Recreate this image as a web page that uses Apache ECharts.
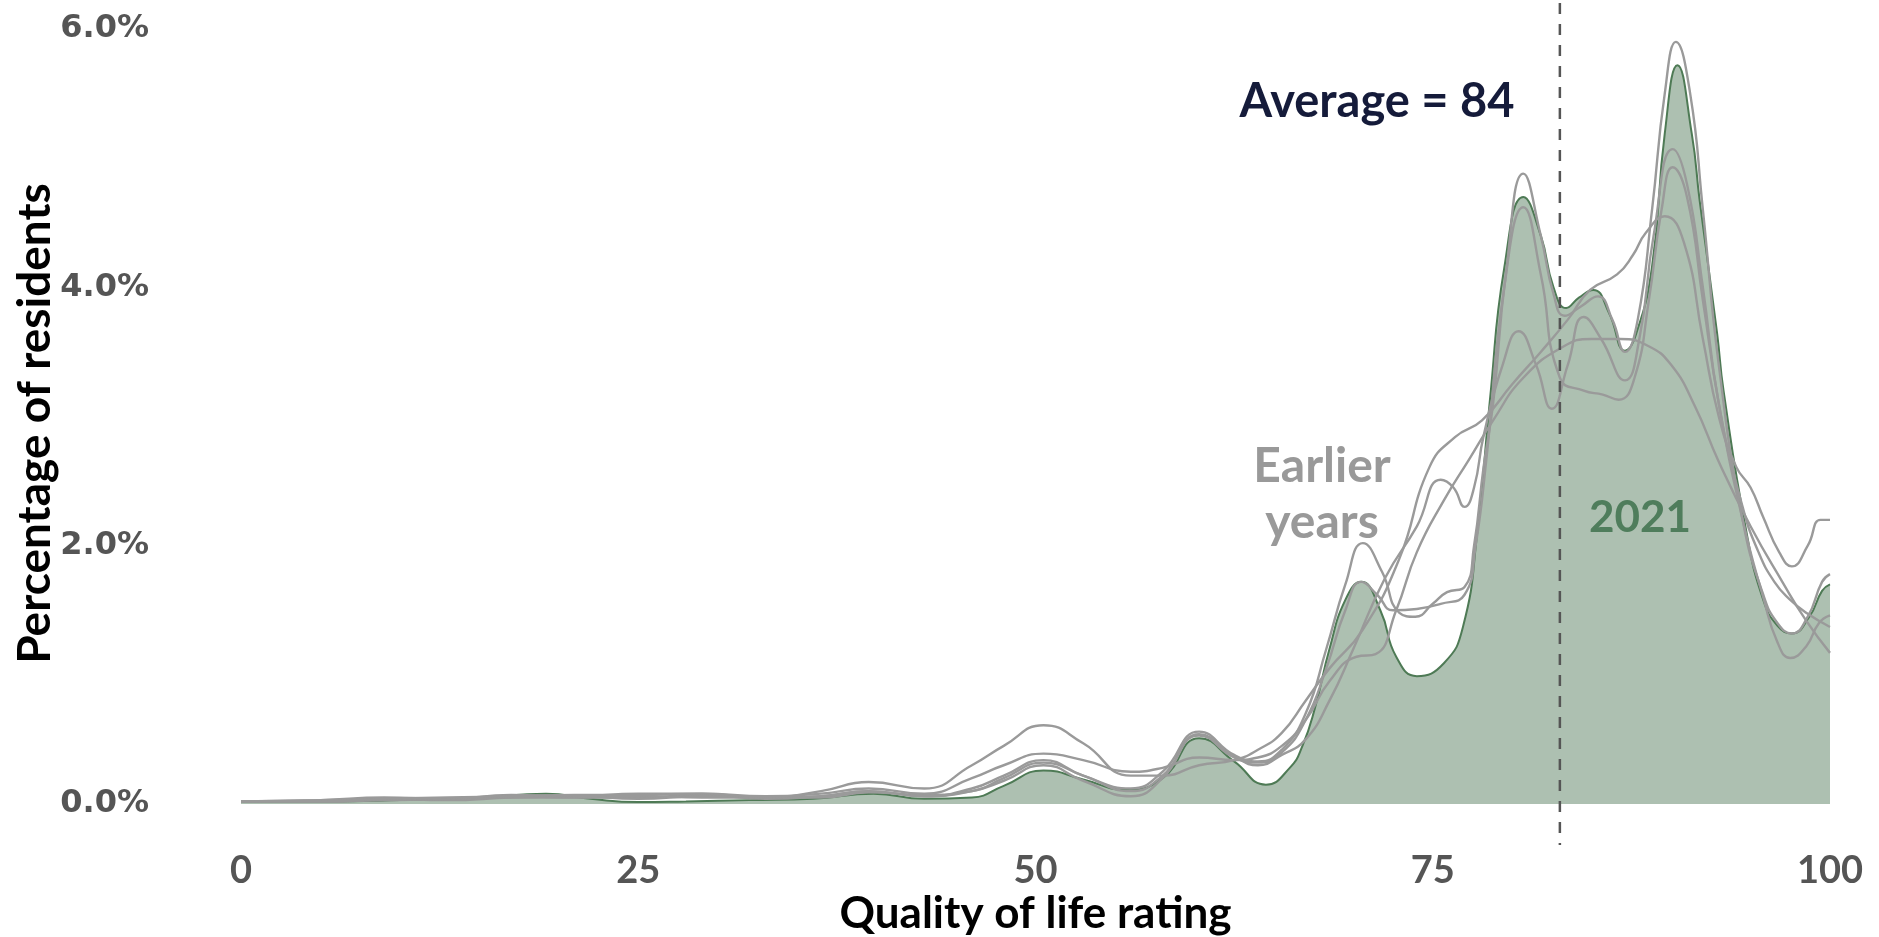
<!DOCTYPE html>
<html>
<head>
<meta charset="utf-8">
<script src="https://cdn.jsdelivr.net/npm/echarts@6/dist/echarts.min.js"></script>
<style>
  html, body { margin: 0; padding: 0; background: #ffffff; }
  #chart { width: 1879px; height: 937px; }
</style>
</head>
<body>
<div id="chart"></div>
<script>
// ---- Data (x = quality of life rating, y = percentage of residents) ----
const xTicks = [0, 25, 50, 75, 100];
const yTicks = [0, 2, 4, 6];
const averageLine = 83;          // position of dashed average line as drawn
const averageText = 'Average = 84';

const year2021 = [[0,0.02],[5,0.02],[10,0.03],[15,0.05],[19.2,0.08],[22,0.04],[25,0.015],[28,0.02],[32,0.03],[36,0.04],[39.8,0.08],[43,0.04],[46,0.05],[48,0.14],[50.5,0.26],[53,0.19],[55.7,0.11],[58,0.20],[60.3,0.51],[62.5,0.33],[64.5,0.15],[66,0.28],[66.8,0.45],[67.6,0.75],[68.5,1.20],[69.5,1.58],[70.5,1.72],[71.7,1.50],[72.7,1.14],[74,0.99],[75.7,1.09],[76.9,1.37],[77.8,2.10],[78.6,3.13],[79.5,4.15],[80.7,4.70],[81.8,4.40],[82.6,4.00],[83.4,3.84],[84.2,3.92],[85.1,3.98],[86.1,3.80],[87.1,3.51],[87.8,3.64],[88.8,4.16],[89.6,5.19],[90.4,5.72],[91.3,5.19],[91.8,4.67],[92.9,3.64],[93.3,3.20],[94.75,2.10],[95.8,1.58],[96.7,1.38],[97.6,1.32],[98.7,1.45],[99.5,1.65],[100,1.70]];

const earlierA = [[0,0.02],[5,0.02],[9,0.03],[13,0.04],[17,0.06],[21,0.05],[25,0.05],[29,0.07],[33,0.04],[36.5,0.06],[39.5,0.10],[43,0.06],[46,0.12],[48,0.22],[50.5,0.34],[53,0.22],[56,0.12],[58,0.25],[60.3,0.56],[62.5,0.38],[64,0.33],[65.5,0.42],[67,0.70],[68.3,1.20],[69.5,1.70],[70.6,2.02],[71.8,1.80],[72.9,1.48],[73.9,1.45],[75,1.55],[75.9,1.64],[77,1.68],[77.6,2.00],[78.2,2.61],[78.8,3.10],[79.6,4.10],[80.7,4.88],[81.8,4.40],[82.6,3.95],[83.3,3.78],[84.3,3.85],[85.4,3.93],[86.3,3.75],[87.1,3.50],[87.9,3.75],[88.8,4.60],[89.6,5.50],[90.3,5.90],[91.2,5.50],[92,4.60],[93,3.40],[94.5,2.20],[95.8,1.62],[96.7,1.40],[97.6,1.32],[98.6,1.45],[99.5,1.72],[100,1.78]];

const earlierB = [[0,0.02],[5,0.03],[9,0.04],[13,0.03],[17,0.05],[21,0.06],[25,0.04],[29,0.06],[33,0.05],[36.5,0.05],[39.5,0.09],[43,0.07],[46,0.10],[48,0.20],[50.5,0.32],[53,0.22],[56,0.10],[58,0.22],[60.3,0.53],[62.5,0.36],[64,0.32],[65.5,0.40],[67,0.65],[68.3,1.05],[69.5,1.50],[70.5,1.72],[71.5,1.62],[72.5,1.50],[74,1.51],[75.5,1.55],[77,1.62],[77.7,2.00],[78.4,2.70],[79.5,4.00],[80.7,4.62],[81.8,4.10],[83,3.30],[84.5,3.20],[85.7,3.17],[86.7,3.13],[87.7,3.30],[88.6,3.90],[89.4,4.60],[90.1,4.93],[91,4.70],[92,3.90],[93,3.10],[94.5,2.20],[95.8,1.60],[96.7,1.25],[97.5,1.13],[98.5,1.22],[99.3,1.40],[100,1.46]];

const earlierC = [[0,0.02],[5,0.02],[9,0.03],[13,0.04],[17,0.05],[21,0.05],[25,0.06],[29,0.05],[33,0.05],[36.5,0.06],[39.5,0.10],[43,0.06],[46,0.10],[48,0.18],[50.5,0.30],[53,0.18],[56,0.06],[58,0.20],[60.3,0.54],[62.5,0.37],[64,0.30],[65.5,0.38],[67,0.50],[68.5,0.80],[70,1.20],[72,1.75],[74,2.15],[75.5,2.51],[76.3,2.45],[77,2.30],[77.6,2.45],[78.2,2.85],[79.4,3.40],[80.4,3.66],[81.5,3.40],[82.5,3.06],[83.5,3.40],[84.5,3.77],[85.6,3.60],[87.1,3.28],[88,3.60],[88.9,4.40],[90.1,5.07],[91,4.80],[92,4.00],[93,3.10],[94.5,2.30],[95.5,1.95],[96.5,1.72],[97.5,1.58],[98.5,1.48],[100,1.37]];

const earlierD = [[0,0.02],[5,0.03],[9,0.05],[13,0.04],[17,0.07],[21,0.06],[25,0.08],[29,0.08],[33,0.05],[36.5,0.10],[39.5,0.17],[43,0.12],[46,0.30],[48,0.45],[50.5,0.61],[53,0.47],[56,0.22],[58,0.22],[60.3,0.30],[62.5,0.34],[64,0.42],[65.5,0.55],[67,0.80],[68.5,1.05],[70.6,1.35],[72.9,1.90],[74.8,2.61],[76.4,2.84],[78.1,2.97],[80,3.25],[81.8,3.50],[83.5,3.75],[84.9,3.98],[86.6,4.10],[87.6,4.25],[88.4,4.42],[89.6,4.55],[90.8,4.35],[92,3.60],[93,3.00],[94.1,2.61],[95,2.45],[95.8,2.22],[96.8,1.95],[97.6,1.84],[98.6,2.00],[99.4,2.20],[100,2.20]];

const earlierE = [[0,0.02],[5,0.02],[9,0.04],[13,0.05],[17,0.06],[21,0.07],[25,0.07],[29,0.08],[33,0.06],[36.5,0.08],[39.5,0.12],[43,0.08],[46,0.20],[48,0.30],[50.5,0.39],[53,0.34],[56,0.25],[58,0.28],[60.3,0.36],[62.5,0.34],[64,0.36],[65.5,0.45],[67,0.65],[68.5,0.95],[70.2,1.14],[71.4,1.16],[72.7,1.50],[74,1.95],[75.7,2.35],[77.3,2.67],[78.8,2.97],[80.7,3.30],[83.2,3.54],[85,3.60],[86.8,3.60],[88.5,3.55],[90,3.40],[91.5,3.08],[93,2.65],[95,2.15],[97,1.72],[98.5,1.42],[100,1.17]];

const earlierYears = [earlierA, earlierB, earlierC, earlierD, earlierE];

// ---- Styles ----
const NARROW = "Lato, 'DejaVu Sans Condensed', sans-serif";
const GREEN_FILL = '#adc0b1';
const GREEN_LINE = '#4e7a55';
const GRAY = '#9a9a9a';

const chart = echarts.init(document.getElementById('chart'), null, { renderer: 'canvas' });

const grayLines = earlierYears.map((d, i) => ({
  name: 'earlier' + i,
  type: 'line',
  data: d,
  xAxisIndex: 0, yAxisIndex: 0,
  smooth: 0.5,
  symbol: 'none',
  silent: true,
  z: 3,
  lineStyle: { color: GRAY, width: 2.4 }
}));

const option = {
  animation: false,
  backgroundColor: '#ffffff',
  grid: [
    { left: 241, right: 49, top: 29, bottom: 133, containLabel: false, outerBoundsMode: 'none' },
    { left: 241, right: 49, top: 3, bottom: 92, containLabel: false, outerBoundsMode: 'none' }
  ],
  xAxis: [
    {
      type: 'value', gridIndex: 0, min: 0, max: 100, interval: 25,
      axisLine: { show: false }, axisTick: { show: false }, splitLine: { show: false },
      axisLabel: { color: '#555555', fontFamily: NARROW, fontWeight: 'bold', fontSize: 38, margin: 48 },
      name: 'Quality of life rating', nameLocation: 'middle', nameGap: 88, nameMoveOverlap: false,
      nameTextStyle: { color: '#000000', fontFamily: NARROW, fontWeight: 'bold', fontSize: 44 }
    },
    { type: 'value', gridIndex: 1, min: 0, max: 100, show: false }
  ],
  yAxis: [
    {
      type: 'value', gridIndex: 0, min: 0, max: 6, interval: 2,
      axisLine: { show: false }, axisTick: { show: false }, splitLine: { show: false },
      axisLabel: {
        color: '#555555', fontFamily: "'DejaVu Sans', sans-serif", fontWeight: 'bold', fontSize: 32, margin: 92,
        align: 'right',
        formatter: v => v.toFixed(1) + '%'
      },
      name: 'Percentage of residents', nameLocation: 'middle', nameGap: 183, nameRotate: 90, nameMoveOverlap: false,
      nameTextStyle: { color: '#000000', fontFamily: NARROW, fontWeight: 'bold', fontSize: 46, padding: [0, 14, 0, 0] }
    },
    { type: 'value', gridIndex: 1, min: 0, max: 1, show: false }
  ],
  series: [
    {
      name: '2021',
      type: 'line',
      data: year2021,
      smooth: 0.5,
      symbol: 'none',
      silent: true,
      z: 2,
      lineStyle: { color: GREEN_LINE, width: 2 },
      areaStyle: { color: GREEN_FILL, opacity: 1 }
    },
    {
      name: 'average',
      type: 'line',
      xAxisIndex: 1, yAxisIndex: 1,
      data: [[averageLine, 1], [averageLine, 0]],
      symbol: 'none',
      silent: true,
      z: 4,
      lineStyle: { color: '#555555', width: 2.5, type: [11, 10] }
    }
  ].concat(grayLines),
  graphic: [
    {
      type: 'text', x: 1377, y: 102, z: 10, silent: true,
      style: { text: averageText, fill: '#151b3a', font: 'bold 47px ' + NARROW, align: 'center', verticalAlign: 'middle' }
    },
    {
      type: 'text', x: 1322, y: 495, z: 10, silent: true,
      style: { text: 'Earlier\nyears', fill: '#999999', font: 'bold 48px ' + NARROW, align: 'center', verticalAlign: 'middle', lineHeight: 56 }
    },
    {
      type: 'text', x: 1640, y: 518, z: 10, silent: true,
      style: { text: '2021', fill: '#4f7d5c', font: 'bold 44px ' + NARROW, align: 'center', verticalAlign: 'middle' }
    }
  ]
};

chart.setOption(option);
</script>
</body>
</html>
